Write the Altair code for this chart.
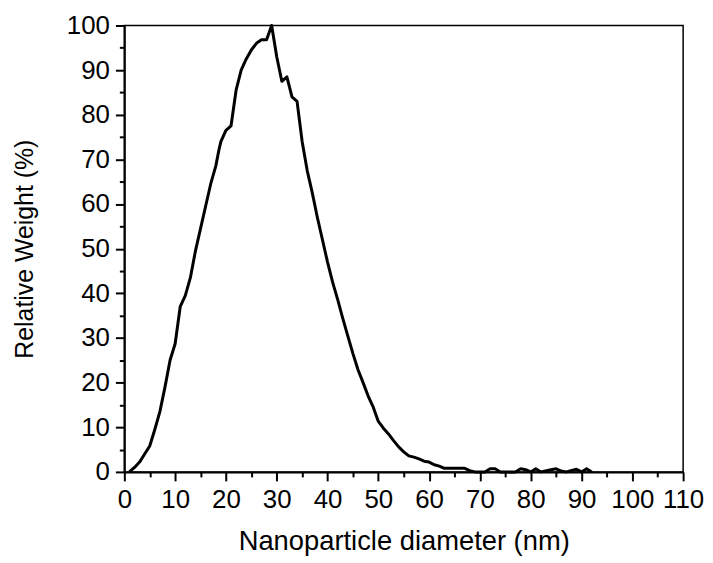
import altair as alt
import pandas as pd

diameter = [1, 2, 3, 4, 5, 6, 7, 8, 9, 10, 11, 12, 13, 14, 15, 16, 17, 18, 18.6, 19, 20, 21, 22, 23, 24, 25,
            26, 27, 28, 29, 30, 31, 32, 33, 34, 35, 36, 37, 38, 39, 40, 41, 42, 43, 44, 45, 46, 47, 48,
            49, 50, 51, 52, 53, 54, 55, 56, 57, 58, 59, 60, 61, 62, 63, 64, 65, 66, 67, 68, 69, 70, 71,
            72, 73, 74, 77, 78, 79, 80, 81, 82, 84, 85, 86, 87, 89, 90, 91, 92]
weight = [0, 1, 2.2, 4, 5.8, 9.5, 13.5, 19, 25, 28.7, 37, 39.5, 43.5, 49.5, 54.5, 59.5, 64.5, 68.5, 72, 74, 76.5, 77.5, 85.5, 90, 92.5, 94.5,
          96, 96.8, 96.8, 100, 93, 87.5, 88.5, 84, 83, 74, 67.5, 62.5, 57, 52, 47, 42.5, 38.6, 34.4, 30.4, 26.5, 22.9, 20, 17,
          14.5, 11.3, 9.8, 8.5, 7, 5.6, 4.5, 3.6, 3.3, 2.9, 2.4, 2.2, 1.6, 1.3, 0.8, 0.8, 0.8, 0.8, 0.8, 0.3, 0, 0, 0,
          0.7, 0.7, 0, 0, 0.7, 0.5, 0, 0.7, 0, 0.5, 0.7, 0.2, 0, 0.6, 0, 0.7, 0]

x_ticks = list(range(0, 111, 5))
y_ticks = list(range(0, 101, 5))

df = pd.DataFrame({"d": diameter, "w": weight})

font = "Liberation Sans"
tick_size = {"condition": {"test": "datum.value % 10 === 0", "value": 9}, "value": 5}

chart = alt.Chart(df).mark_line(color="black", strokeWidth=3, strokeJoin="round").encode(
    x=alt.X("d:Q", scale=alt.Scale(domain=[0, 110], nice=False, zero=False),
            axis=alt.Axis(title="Nanoparticle diameter (nm)", values=x_ticks,
                          labelExpr="datum.value % 10 === 0 ? datum.label : ''",
                          tickSize=tick_size, labelPadding=6, labelFlush=False,
                          labelOverlap=False, grid=False, titlePadding=15,
                          titleFontSize=27.5)),
    y=alt.Y("w:Q", scale=alt.Scale(domain=[0, 100], nice=False),
            axis=alt.Axis(title="Relative Weight (%)", values=y_ticks,
                          labelExpr="datum.value % 10 === 0 ? datum.label : ''",
                          tickSize=tick_size, labelPadding=6, labelFlush=False,
                          labelOverlap=False, grid=False, titlePadding=29,
                          titleFontSize=25)),
).properties(
    width=562, height=449,
    autosize=alt.AutoSizeParams(type="none"),
    padding={"left": 117, "top": 16, "right": 22, "bottom": 83},
).configure_axis(
    labelFont=font, titleFont=font, labelFontSize=26,
    labelColor="black", titleColor="black", titleFontWeight="normal",
    domainColor="black", domainWidth=2, tickColor="black", tickWidth=2,
).configure_view(
    stroke="black", strokeWidth=1.5
)

chart.save("out.html", embed_options={"renderer": "svg", "actions": False})
